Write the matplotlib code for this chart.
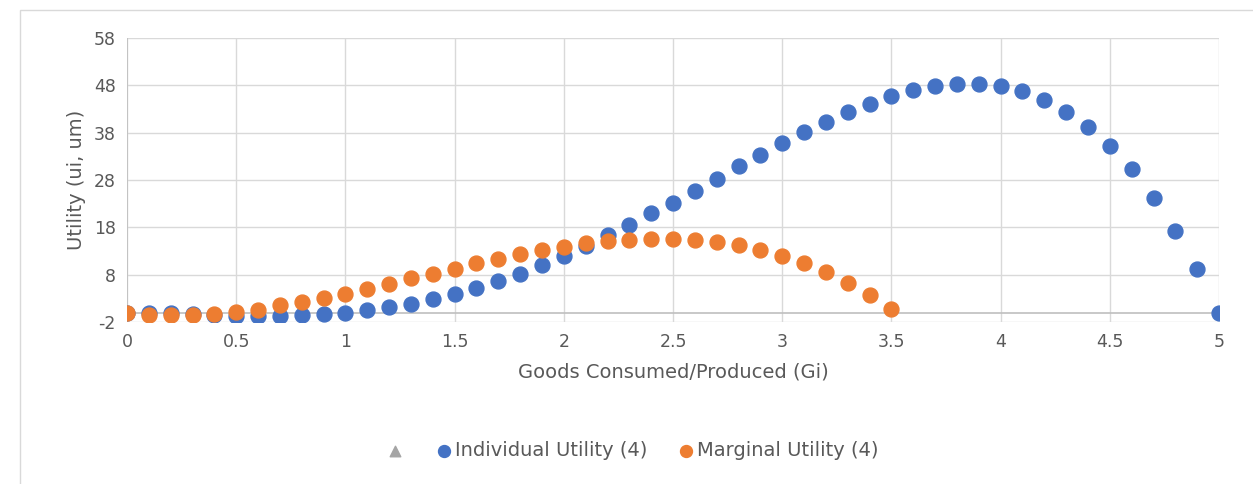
import numpy as np
import matplotlib.pyplot as plt
from matplotlib.patches import Rectangle

plt.rcParams['axes.unicode_minus'] = False

# goods consumed / produced, step 0.1
goods = [round(0.1 * i, 1) for i in range(51)]

individual_utility = [0.0, -0.1, -0.2, -0.3, -0.5, -0.7, -0.8, -0.7, -0.6, -0.4,
                      0.0, 0.5, 1.1, 1.8, 2.8, 3.9, 5.2, 6.6, 8.2, 10.0,
                      11.9, 14.0, 16.4, 18.5, 21.0, 23.2, 25.7, 28.2, 31.0, 33.3,
                      35.8, 38.1, 40.3, 42.3, 44.1, 45.7, 47.0, 47.8, 48.2, 48.2,
                      47.8, 46.7, 44.9, 42.4, 39.2, 35.2, 30.3, 24.3, 17.3, 9.2,
                      0.0]

marginal_goods = goods[:36]
marginal_utility = [0.0, -0.5, -0.6, -0.5, -0.3, 0.1, 0.6, 1.5, 2.2, 3.1,
                    4.0, 5.0, 6.1, 7.2, 8.2, 9.3, 10.4, 11.4, 12.4, 13.3,
                    13.8, 14.6, 15.1, 15.4, 15.6, 15.5, 15.3, 14.8, 14.2, 13.2,
                    11.9, 10.4, 8.5, 6.3, 3.8, 0.8]

blue = "#4472C4"
orange = "#ED7D31"
grey_txt = "#595959"

fig = plt.figure(figsize=(12.53, 4.84), dpi=100)
ax = fig.add_axes([0.1014, 0.3347, 0.8715, 0.5868])

# chart border
fig.patches.append(Rectangle((20 / 1253, -0.01), 1.1, 1 - 10 / 484 + 0.01,
                             transform=fig.transFigure, fill=False,
                             edgecolor="#d9d9d9", lw=1))

ax.set_xlim(0, 5)
ax.set_ylim(-2, 58)
ax.set_xticks(np.arange(0, 5.01, 0.5))
ax.set_xticklabels(["0", "0.5", "1", "1.5", "2", "2.5", "3", "3.5", "4", "4.5", "5"])
ax.set_yticks(np.arange(-2, 59, 10))
ax.grid(True, color="#d9d9d9", lw=1)
ax.set_axisbelow(True)
for s in ax.spines.values():
    s.set_visible(False)
ax.axhline(0, color="#bfbfbf", lw=1.2, zorder=1)
ax.axvline(0, color="#bfbfbf", lw=1.2, zorder=1)
ax.tick_params(length=0, labelsize=12.5, labelcolor=grey_txt, pad=8)

tri = ax.scatter([], [], marker="^", s=90, color="#A5A5A5")
b = ax.scatter(goods, individual_utility, s=115, color=blue, zorder=3)
o = ax.scatter(marginal_goods, marginal_utility, s=115, color=orange, zorder=4)

ax.set_xlabel("Goods Consumed/Produced (Gi)", fontsize=14, color=grey_txt, labelpad=8)
ax.set_ylabel("Utility (ui, um)", fontsize=14, color=grey_txt, labelpad=6)

fig.legend([tri, b, o], ["", "Individual Utility (4)", "Marginal Utility (4)"],
           loc="center", bbox_to_anchor=(0.505, 1 - 451 / 484), ncol=3,
           frameon=False, fontsize=14, labelcolor=grey_txt,
           handlelength=0.8, handletextpad=0.15, columnspacing=1.6,
           markerscale=0.8)

fig.savefig("out.png", dpi=100)
